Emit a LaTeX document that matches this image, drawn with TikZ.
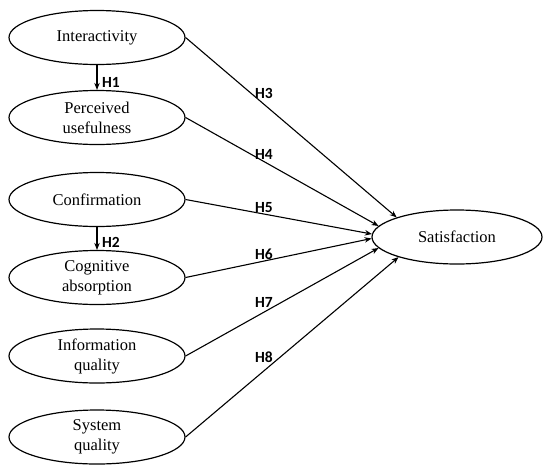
\documentclass[tikz,border=0pt]{standalone}
\usepackage{fontspec}
\setmainfont{Liberation Serif}
\newfontfamily\labfont{Carlito}
\usetikzlibrary{shapes.geometric,arrows.meta}
\begin{document}
\begin{tikzpicture}[x=1pt,y=-1pt,
  construct/.style={ellipse,draw,line width=1.2pt,minimum width=176pt,minimum height=54pt,inner sep=0pt,
    align=center,font=\fontsize{16.5}{20}\selectfont},
  link/.style={draw,line width=1.1pt,-{Stealth[length=7pt,width=5.5pt]}},
  hyp/.style={font=\labfont\bfseries\fontsize{15.5}{18}\selectfont,inner sep=0pt}]
\useasboundingbox (0,0) rectangle (543,464);
\node[construct] (inter) at (97,37.5) {Interactivity};
\node[construct] (pu) at (97,117.5) {Perceived\\usefulness};
\node[construct] (conf) at (97,199.5) {Confirmation};
\node[construct] (cog) at (97,277.5) {Cognitive\\absorption};
\node[construct] (info) at (97,356) {Information\\quality};
\node[construct] (sys) at (97,437) {System\\quality};
\node[construct,minimum width=170pt] (sat) at (457,237) {Satisfaction};
\draw[link] (inter) -- (pu);
\draw[link] (conf) -- (cog);
\draw[link] (inter.east) -- (sat.162);
\draw[link] (pu.east) -- (sat.172);
\draw[link] (conf.east) -- (sat.178.5);
\draw[link] (cog.east) -- (sat.181.5);
\draw[link] (info.east) -- (sat.188.5);
\draw[link] (sys.east) -- (sat.199.5);
\node[hyp] (h1) at (111,82) {H1};
\node[hyp] (h2) at (111,242) {H2};
\node[hyp] (h3) at (264,93) {H3};
\node[hyp] (h4) at (264,154) {H4};
\node[hyp] (h5) at (264,208) {H5};
\node[hyp] (h6) at (264,254) {H6};
\node[hyp] (h7) at (264,302) {H7};
\node[hyp] (h8) at (264,357) {H8};
\end{tikzpicture}
\end{document}
